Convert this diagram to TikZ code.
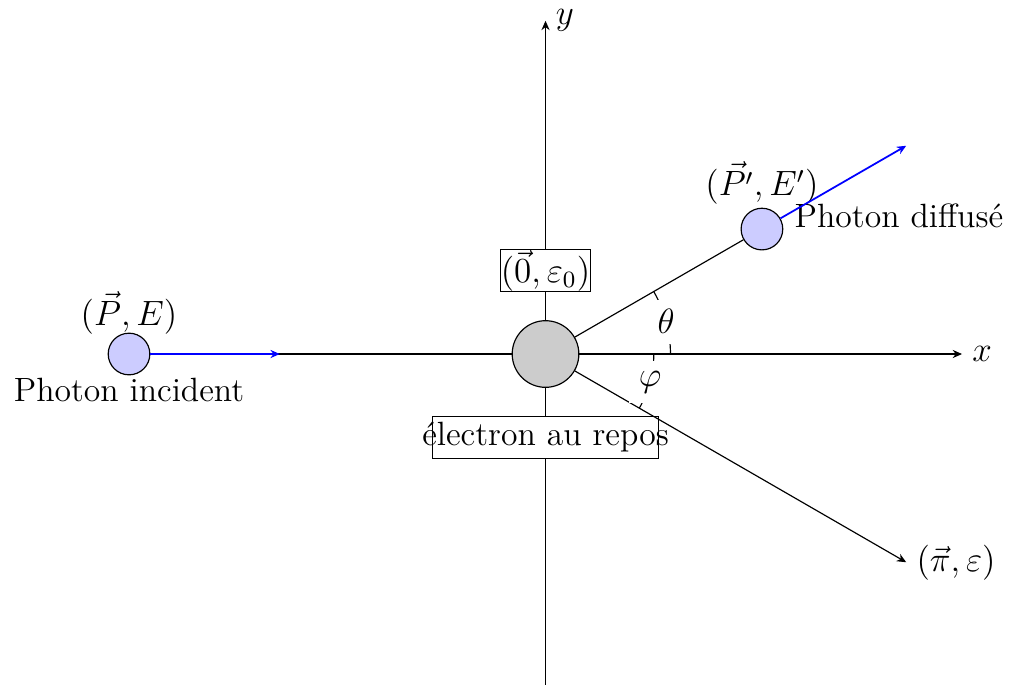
\documentclass[tikz,border=0pt]{standalone}
\usetikzlibrary{arrows.meta,calc,backgrounds}
\tikzset{
  tip/.style={-{Stealth[length=3.2pt,width=2.8pt]}},
  electron/.style={circle,draw,fill=gray!40,minimum size=0.8cm,inner sep=0pt},
  photon/.style={circle,draw,fill=blue!20,minimum size=0.5cm,inner sep=0pt},
  infobox/.style={draw,fill=white,inner sep=0pt,minimum height=0.5cm},
  anglelabel/.style={fill=white},
  blueray/.style={blue,semithick,tip},
}
\begin{document}
\begin{tikzpicture}[font=\fontsize{11.5}{14}\selectfont]
\useasboundingbox (-6.549,-3.973) rectangle (5.600,4.250);
% points
\coordinate (xend) at (5,0);
\coordinate (yend) at (0,4);
\coordinate (ybot) at (0,-4.2);
\coordinate (pend) at (-30:5);
\coordinate (dend) at (30:5);
\coordinate (iend) at (-3.19,0);
% particles
\node[electron] (e) at (0,0) {};
\node[photon] (inc) at (-5,0) {};
\node[photon] (dif) at (30:3) {};
% axes
\begin{scope}[on background layer]
\draw[tip] (inc.center) -- (xend);
\draw[tip] (ybot) -- (yend);
\end{scope}
\node[right] (xl) at (xend) {$x$};
\node[right] (yl) at (yend) {$y$};
% boxes
\node[infobox,minimum width=1cm] (b0) at (0,1) {$(\vec{0},\varepsilon_0)$};
\node[infobox] (be) at (0,-1) {\makebox[2.71cm]{électron au repos}};
% scattered lines
\draw (e) -- (dif);
\draw[tip] (e) -- (pend);
\node[right] (pl) at (pend) {$(\vec{\pi},\varepsilon)$};
% angles
\draw (1.5,0) arc[start angle=0,end angle=30,radius=1.5];
\node[anglelabel] (th) at (15:1.5) {$\theta$};
\draw (-30:1.3) arc[start angle=-30,end angle=0,radius=1.3];
\node[anglelabel] (ph) at (-15:1.3) {$\varphi$};
% photon labels
\node (incl) at ($(inc)+(0,0.49)$) {$(\vec{P},E)$};
\node (inct) at ($(inc)+(0,-0.43)$) {Photon incident};
\node (difl) at ($(dif)+(0,0.55)$) {$(\vec{P'},E')$};
\node (dift) at ($(dif)+(1.645,0.16)$) {Photon diffusé};
% photon momenta
\draw[blueray] (inc) -- (iend);
\draw[blueray] (dif) -- (dend);
\end{tikzpicture}
\end{document}
